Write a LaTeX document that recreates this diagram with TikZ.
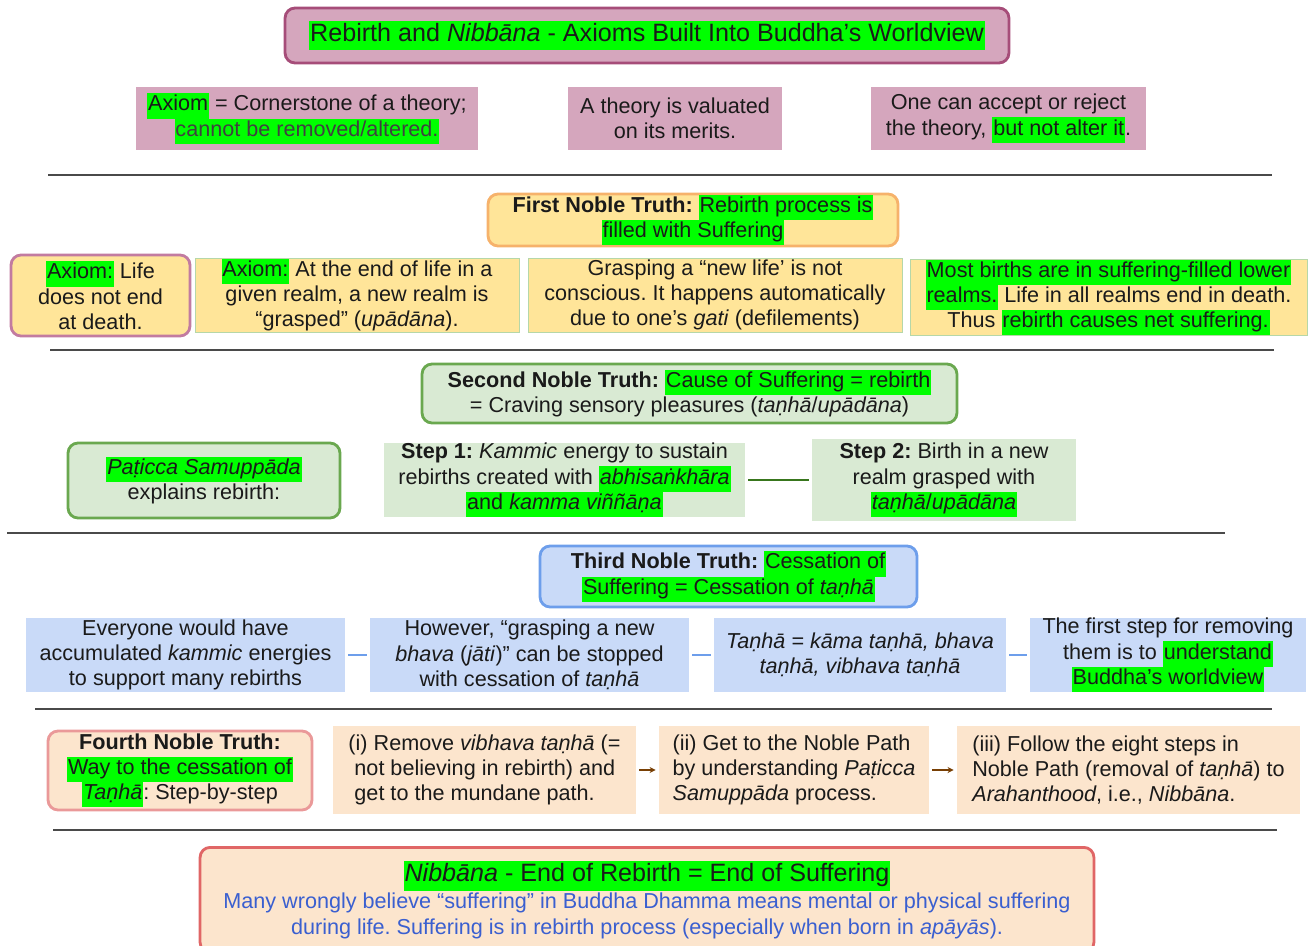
\documentclass[tikz,border=0pt]{standalone}
\usepackage{fontspec}
\setmainfont{Liberation Sans}
\usepackage{xcolor}
\usetikzlibrary{arrows.meta}
\frenchspacing

\definecolor{hlgreen}{HTML}{00FF00}
\definecolor{textdark}{HTML}{1A1A1A}
\definecolor{pinkfill}{HTML}{D5A6BD}
\definecolor{pinkline}{HTML}{A64D79}
\definecolor{mauveline}{HTML}{C27BA0}
\definecolor{yellowfill}{HTML}{FFE599}
\definecolor{yellowedge}{HTML}{B6D7A8}
\definecolor{orangeline}{HTML}{F6B26B}
\definecolor{greenfill}{HTML}{D9EAD3}
\definecolor{greenline}{HTML}{6AA84F}
\definecolor{greenlink}{HTML}{38761D}
\definecolor{bluefill}{HTML}{C9DAF8}
\definecolor{blueline}{HTML}{6D9EEB}
\definecolor{peachfill}{HTML}{FCE5CD}
\definecolor{salmonline}{HTML}{EA9999}
\definecolor{redline}{HTML}{E06666}
\definecolor{brownlink}{HTML}{783F04}
\definecolor{notesblue}{HTML}{3A5FD0}
\definecolor{sepgray}{HTML}{4A4A4A}

% green text highlight
\newcommand{\hlg}[1]{{\setlength{\fboxsep}{0pt}\colorbox{hlgreen}{\kern0.5pt\strut #1\kern0.5pt}}}

\begin{document}
\begin{tikzpicture}[x=0.02cm, y=-0.02cm,
  every node/.style={font=\fontsize{12.3}{14.4}\selectfont, text=textdark, align=center, inner sep=0pt},
  truthbox/.style={rounded corners=0.2cm, line width=1.6pt},
  cardbox/.style={draw=yellowedge, line width=0.5pt, fill=yellowfill},
  sepline/.style={draw=sepgray, line width=0.6pt},
  greenjoin/.style={draw=greenlink, line width=0.6pt, shorten <=0.06cm, shorten >=0.06cm},
  bluejoin/.style={draw=blueline, line width=0.8pt, shorten <=0.06cm, shorten >=0.06cm},
  stepjoin/.style={draw=brownlink, line width=0.7pt, -{Stealth[length=3.5pt,width=3.5pt]}, shorten <=0.06cm, shorten >=0.06cm}]
  \useasboundingbox (0,0) rectangle (1316,946);

  % title
  \node[truthbox, draw=pinkline, fill=pinkfill, minimum width=14.48cm, minimum height=1.1cm,
        font=\fontsize{14.3}{17}\selectfont] (title) at (647,35.5)
    {\hlg{Rebirth and \textit{Nibbāna} - Axioms Built Into Buddha’s Worldview}};

  % row 1: what an axiom is
  \node[fill=pinkfill, minimum width=6.84cm, minimum height=1.26cm] (axiom) at (307,118.5)
    {\hlg{Axiom} = Cornerstone of a theory;\\ \textcolor{black!75}{\hlg{cannot be removed/altered.}}};
  \node[fill=pinkfill, minimum width=4.28cm, minimum height=1.26cm] (merits) at (675,118.5)
    {A theory is valuated\\ on its merits.};
  \node[fill=pinkfill, minimum width=5.5cm, minimum height=1.26cm] (accept) at (1008.5,118.5)
    {One can accept or reject\\ the theory, \hlg{but not alter it}.};
  \draw[sepline] (48,175) -- (1272,175);

  % first noble truth
  \node[truthbox, draw=orangeline, fill=yellowfill, minimum width=8.2cm, minimum height=1.04cm] (first) at (693,220)
    {\textbf{First Noble Truth:} \hlg{Rebirth process is}\\ \hlg{filled with Suffering}};
  \node[truthbox, draw=mauveline, fill=yellowfill, minimum width=3.58cm, minimum height=1.62cm] (life) at (100.5,295.5)
    {\hlg{Axiom:} Life\\ does not end\\ at death.};
  \node[cardbox, minimum width=6.48cm, minimum height=1.48cm] (grasped) at (357,295)
    {\hlg{Axiom:} At the end of life in a\\ given realm, a new realm is\\ “grasped” (\textit{upādāna}).};
  \node[cardbox, minimum width=7.48cm, minimum height=1.48cm] (gati) at (715,295)
    {Grasping a “new life’ is not\\ conscious. It happens automatically\\ due to one’s \textit{gati} (defilements)};
  \node[cardbox, minimum width=7.94cm, minimum height=1.5cm] (lower) at (1108.5,297.5)
    {\hlg{Most births are in suffering-filled lower}\\ \hlg{realms.} Life in all realms end in death.\\ Thus \hlg{rebirth causes net suffering.}};
  \draw[sepline] (50,350) -- (1274,350);

  % second noble truth
  \node[truthbox, draw=greenline, fill=greenfill, minimum width=10.7cm, minimum height=1.18cm] (second) at (689.5,393.5)
    {\textbf{Second Noble Truth:} \hlg{Cause of Suffering = rebirth}\\ = Craving sensory pleasures (\textit{taṇhā}/\textit{upādāna})};
  \node[truthbox, draw=greenline, fill=greenfill, minimum width=5.44cm, minimum height=1.5cm] (paticca) at (204,480.5)
    {\hlg{\textit{Paṭicca Samuppāda}}\\ explains rebirth:};
  \node[fill=greenfill, minimum width=7.22cm, minimum height=1.48cm] (step1) at (564.5,480)
    {\textbf{Step 1:} \textit{Kammic} energy to sustain\\ rebirths created with \hlg{\textit{abhisaṅkhāra}}\\ \hlg{and \textit{kamma viññāṇa}}};
  \node[fill=greenfill, minimum width=5.28cm, minimum height=1.64cm] (step2) at (944,480)
    {\textbf{Step 2:} Birth in a new\\ realm grasped with\\ \hlg{\textit{taṇhā}/\textit{upādāna}}};
  \draw[greenjoin] (step1) -- (step2);
  \draw[sepline] (7,533) -- (1225,533);

  % third noble truth
  \node[truthbox, draw=blueline, fill=bluefill, minimum width=7.54cm, minimum height=1.22cm] (third) at (728.5,576.5)
    {\textbf{Third Noble Truth:} \hlg{Cessation of}\\ \hlg{Suffering = Cessation of \textit{taṇhā}}};
  \node[fill=bluefill, minimum width=6.38cm, minimum height=1.5cm] (energies) at (185.5,655)
    {Everyone would have\\ accumulated \textit{kammic} energies\\ to support many rebirths};
  \node[fill=bluefill, minimum width=6.38cm, minimum height=1.5cm] (bhava) at (529.5,655)
    {However, “grasping a new\\ \textit{bhava} (\textit{jāti})” can be stopped\\ with cessation of \textit{taṇhā}};
  \node[fill=bluefill, minimum width=5.84cm, minimum height=1.48cm] (kinds) at (860,655)
    {\textit{Taṇhā = kāma taṇhā, bhava}\\ \textit{taṇhā, vibhava taṇhā}};
  \node[fill=bluefill, minimum width=5.52cm, minimum height=1.48cm] (understand) at (1168,655)
    {The first step for removing\\ them is to \hlg{understand}\\ \hlg{Buddha’s worldview}};
  \draw[bluejoin] (energies) -- (bhava);
  \draw[bluejoin] (bhava) -- (kinds);
  \draw[bluejoin] (kinds) -- (understand);
  \draw[sepline] (35,709) -- (1272,709);

  % fourth noble truth
  \node[truthbox, draw=salmonline, fill=peachfill, minimum width=5.28cm, minimum height=1.58cm] (fourth) at (180,770.5)
    {\textbf{Fourth Noble Truth:}\\ \hlg{Way to the cessation of}\\ \hlg{\textit{Taṇhā}}: Step-by-step};
  \node[fill=peachfill, minimum width=6.06cm, minimum height=1.76cm, align=left] (remove) at (484.5,770)
    {(i) Remove \textit{vibhava taṇhā} (=\\ \hspace{0.12cm}not believing in rebirth) and\\ \hspace{0.12cm}get to the mundane path.};
  \node[fill=peachfill, minimum width=5.4cm, minimum height=1.76cm, align=left] (path) at (794,770)
    {(ii) Get to the Noble Path\\ by understanding \textit{Paṭicca}\\ \textit{Samuppāda} process.};
  \node[fill=peachfill, minimum width=6.86cm, minimum height=1.76cm, align=left] (eight) at (1128.5,770)
    {(iii) Follow the eight steps in\\ Noble Path (removal of \textit{taṇhā}) to\\ \textit{Arahanthood}, i.e., \textit{Nibbāna}.};
  \draw[stepjoin] (remove) -- (path);
  \draw[stepjoin] (path) -- (eight);
  \draw[sepline] (53,830) -- (1277,830);

  % nibbana
  \node[truthbox, draw=redline, fill=peachfill, minimum width=17.88cm, minimum height=2.1cm, anchor=north] (nibbana) at (647,846)
    {{\fontsize{14.3}{17}\selectfont\hlg{\textit{Nibbāna} - End of Rebirth = End of Suffering}}\\[1pt]
     \textcolor{notesblue}{Many wrongly believe “suffering” in Buddha Dhamma means mental or physical suffering}\\
     \textcolor{notesblue}{during life. Suffering is in rebirth process (especially when born in \textit{apāyās}).}};
\end{tikzpicture}
\end{document}
